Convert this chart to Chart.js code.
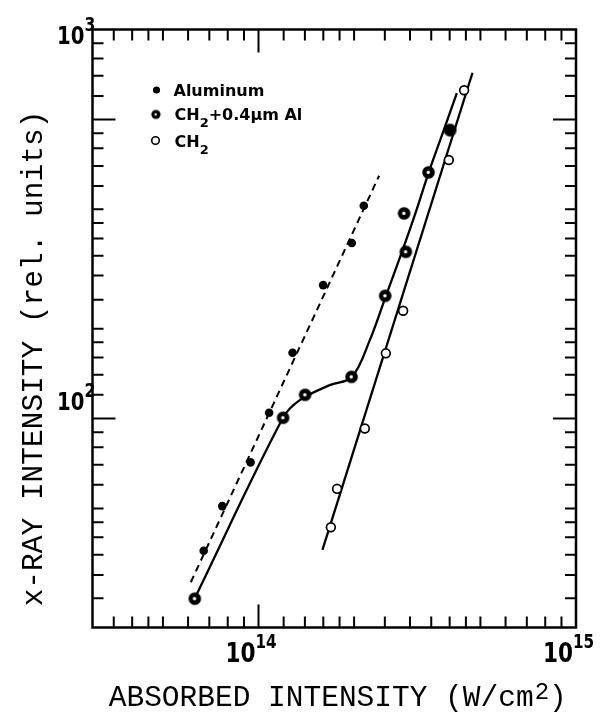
<!DOCTYPE html>
<html><head><meta charset="utf-8">
<script src="https://cdn.jsdelivr.net/npm/chart.js@4.4.0/dist/chart.umd.min.js"></script>
<style>html,body{margin:0;padding:0;background:#fff;}#wrap{width:605px;height:715px;}</style>
</head><body><div id="wrap"><canvas id="c" width="605" height="715"></canvas></div>
<script>
// ---- axis ranges / ticks ----
const xMin = 3e13, xMax = 1e15;
const yMin = 29, yMax = 1000;
const xMinorTicks = [3.5e13,4e13,4.5e13,5e13,6e13,7e13,8e13,9e13,1.2e14,1.4e14,1.6e14,1.8e14,2e14,2.5e14,3e14,3.5e14,4e14,4.5e14,5e14,6e14,7e14,8e14,9e14];
const xMajorTicks = [1e14];
const yMinorTicks = [922,842,760,675,541,495,446,396,345,318,290,262,233,202,170,157,143.5,129.5,115,92.2,84.3,76,67.5,58.7,54.1,49.5,44.6,39.6,34.5];
const yMajorTicks = [587,100];
const xTickLabelValues = [1e14, 1e15];
const xTickLabelExps = ['14','15'];
const yTickLabelValues = [1000, 100];
const yTickLabelExps = ['3','2'];
const xTitle = 'ABSORBED INTENSITY (W/cm';
const xTitleSup = '2';
const yTitle = 'x-RAY INTENSITY (rel. units)';
const seriesNames = ['Aluminum', 'CH', '+0.4\u00b5m Al', 'CH'];

// ---- data ----
const alX = [6.72e13,7.69e13,9.44e13,1.080e14,1.280e14,1.598e14,1.967e14,2.146e14];
const alY = [45.7,59.5,77.1,103.4,147.5,220.2,282.4,352.2];
const alFitX = [6.12e13,2.398e14];
const alFitY = [37.9,420.7];

const mixX = [6.30e13,1.195e14,1.402e14,1.963e14,2.505e14,2.911e14,2.875e14,3.431e14,4.013e14];
const mixY = [34.4,100.4,115.0,127.9,206.7,268.2,336.7,429.2,551.3];
const mixFitX = [6.30e13,1.193e14,1.349e14,1.677e14,1.967e14,2.242e14,2.518e14,2.828e14,3.129e14,3.439e14,3.833e14,4.213e14];
const mixFitY = [34.5,100.2,111.4,121.8,127.7,159.0,206.4,267.7,339.3,430.0,551.3,686.6];

const ch2X = [1.690e14,1.768e14,2.162e14,2.518e14,2.854e14,3.975e14,4.442e14];
const ch2Y = [52.5,65.9,94.2,147.0,189.1,461.7,697.6];
const ch2FitX = [1.590e14,4.721e14];
const ch2FitY = [45.9,774];

const pts = (xs, ys) => xs.map((x, i) => ({x, y: ys[i]}));

function bullseye(r, hole) {
  const s = Math.ceil(r * 2 + 2);
  const cv = document.createElement('canvas');
  cv.width = s; cv.height = s;
  const c = cv.getContext('2d');
  c.fillStyle = '#000';
  c.beginPath(); c.arc(s/2, s/2, r, 0, Math.PI*2); c.fill();
  if (hole) {
    c.fillStyle = '#fff';
    c.beginPath(); c.arc(s/2 - 0.3, s/2, hole, 0, Math.PI*2); c.fill();
  }
  return cv;
}
const bigBull = bullseye(6.3, 1.7);
const bigSolid = bullseye(6.5, 0);

const monoFont = '"Liberation Mono", "Courier New", monospace';
const sansBold = '"DejaVu Sans", "Liberation Sans", sans-serif';

function drawPow(ctx, xr, baseline, baseSize, expSize, expRaise, sx) {
  // helper used for tick labels: "10" + superscript
}

const decor = {
  id: 'decor',
  beforeDatasetsDraw(chart) {
    const {ctx, chartArea: a, scales: {x, y}} = chart;
    ctx.save();
    ctx.strokeStyle = '#000';
    ctx.lineCap = 'butt';
    ctx.lineWidth = 2;
    const tickX = (v, len) => {
      const p = x.getPixelForValue(v);
      ctx.beginPath();
      ctx.moveTo(p, a.bottom); ctx.lineTo(p, a.bottom - len);
      ctx.moveTo(p, a.top); ctx.lineTo(p, a.top + len);
      ctx.stroke();
    };
    const tickY = (v, len) => {
      const p = y.getPixelForValue(v);
      ctx.beginPath();
      ctx.moveTo(a.left, p); ctx.lineTo(a.left + len, p);
      ctx.moveTo(a.right, p); ctx.lineTo(a.right - len, p);
      ctx.stroke();
    };
    xMinorTicks.forEach(v => tickX(v, 11));
    xMajorTicks.forEach(v => tickX(v, 23));
    yMinorTicks.forEach(v => tickY(v, 11));
    yMajorTicks.forEach(v => tickY(v, 23));
    ctx.lineWidth = 2.5;
    ctx.strokeRect(a.left, a.top, a.right - a.left, a.bottom - a.top);
    ctx.restore();
  },
  afterDraw(chart) {
    const {ctx, chartArea: a, scales: {x, y}} = chart;
    ctx.save();
    ctx.fillStyle = '#000';
    // tick labels
    const pow = (xr, base, exp, bSize, eSize, eRaise, sx) => {
      ctx.save();
      ctx.textBaseline = 'alphabetic';
      ctx.font = 'bold ' + bSize + 'px ' + sansBold;
      ctx.translate(xr, base);
      ctx.scale(sx, 1);
      ctx.textAlign = 'right';
      ctx.fillText('10', 0, 0);
      ctx.textAlign = 'left';
      ctx.font = 'bold ' + eSize + 'px ' + sansBold;
      ctx.fillText(exp, 0, -eRaise);
      ctx.restore();
    };
    xTickLabelValues.forEach((v, i) => {
      const p = x.getPixelForValue(v);
      pow(p - 3, a.bottom + 34, xTickLabelExps[i], 27, 19, 14, 0.8);
    });
    yTickLabelValues.forEach((v, i) => {
      const p = Math.max(y.getPixelForValue(v), a.top + 22);
      pow(a.left - 8, p - 8, yTickLabelExps[i], 24, 19, 13, 0.82);
    });
    // axis titles
    ctx.font = '29.5px ' + monoFont;
    ctx.textAlign = 'left';
    ctx.textBaseline = 'alphabetic';
    const w1 = ctx.measureText(xTitle).width;
    ctx.font = '24px ' + monoFont;
    const w2 = ctx.measureText(xTitleSup).width;
    ctx.font = '29.5px ' + monoFont;
    const w3 = ctx.measureText(')').width;
    const cx = (a.left + a.right) / 2 + 3;
    let sx0 = cx - (w1 + w2 + w3) / 2;
    ctx.fillText(xTitle, sx0, 706);
    ctx.font = '24px ' + monoFont;
    ctx.fillText(xTitleSup, sx0 + w1 + 1, 699);
    ctx.font = '29.5px ' + monoFont;
    ctx.fillText(')', sx0 + w1 + w2 + 1, 706);
    ctx.save();
    ctx.translate(42, (a.top + a.bottom) / 2 + 30);
    ctx.rotate(-Math.PI / 2);
    ctx.textAlign = 'center';
    ctx.textBaseline = 'alphabetic';
    ctx.fillText(yTitle, 0, 0);
    ctx.restore();
    // legend
    const lx = a.left + 64, tx = a.left + 81;
    ctx.beginPath(); ctx.arc(lx, 90, 3.6, 0, Math.PI*2); ctx.fill();
    ctx.drawImage(bullseye(4.6, 1.2), lx - 5.6 - 1, 114 - 5.6);
    ctx.lineWidth = 1.6;
    ctx.fillStyle = '#fff';
    ctx.beginPath(); ctx.arc(lx - 1, 140.5, 3.8, 0, Math.PI*2); ctx.fill(); ctx.stroke();
    ctx.fillStyle = '#000';
    ctx.font = 'bold 16px ' + sansBold;
    ctx.textAlign = 'left';
    ctx.fillText(seriesNames[0], tx, 96);
    ctx.fillText(seriesNames[1], tx + 1, 120);
    let w = ctx.measureText(seriesNames[1]).width;
    ctx.font = 'bold 13px ' + sansBold;
    ctx.fillText('2', tx + 1 + w, 127);
    let w2b = ctx.measureText('2').width;
    ctx.font = 'bold 16px ' + sansBold;
    ctx.fillText(seriesNames[2], tx + 1 + w + w2b, 120);
    ctx.fillText(seriesNames[3], tx + 1, 147);
    w = ctx.measureText(seriesNames[3]).width;
    ctx.font = 'bold 13px ' + sansBold;
    ctx.fillText('2', tx + 1 + w, 154);
    ctx.restore();
  }
};

new Chart(document.getElementById('c'), {
  type: 'line',
  data: {
    datasets: [
      {label: 'Aluminum fit', data: pts(alFitX, alFitY), borderColor: '#000', borderWidth: 2, borderDash: [7, 5], pointRadius: 0, showLine: true, fill: false, order: 2},
      {label: 'CH2+0.4µm Al fit', data: pts(mixFitX, mixFitY), borderColor: '#000', borderWidth: 2.3, pointRadius: 0, showLine: true, fill: false, tension: 0.35, order: 2},
      {label: 'CH2 fit', data: pts(ch2FitX, ch2FitY), borderColor: '#000', borderWidth: 2.3, pointRadius: 0, showLine: true, fill: false, order: 2},
      {label: 'Aluminum', data: pts(alX, alY), showLine: false, pointRadius: 4.3, pointBackgroundColor: '#000', pointBorderColor: '#000', pointBorderWidth: 0, order: 1},
      {label: 'CH2+0.4µm Al', data: pts(mixX, mixY), showLine: false, pointStyle: mixX.map((v, i) => i === mixX.length - 1 ? bigSolid : bigBull), pointRadius: 6.5, order: 1},
      {label: 'CH2', data: pts(ch2X, ch2Y), showLine: false, pointRadius: 4.4, pointBackgroundColor: '#fff', pointBorderColor: '#000', pointBorderWidth: 1.7, order: 0}
    ]
  },
  options: {
    responsive: false,
    devicePixelRatio: 1,
    animation: false,
    parsing: true,
    layout: {padding: {left: 92.5, right: 29, top: 29.5, bottom: 87.5}},
    plugins: {legend: {display: false}, tooltip: {enabled: false}, title: {display: false}},
    scales: {
      x: {type: 'logarithmic', min: xMin, max: xMax, display: false},
      y: {type: 'logarithmic', min: yMin, max: yMax, display: false}
    }
  },
  plugins: [decor]
});
</script>
</body></html>
